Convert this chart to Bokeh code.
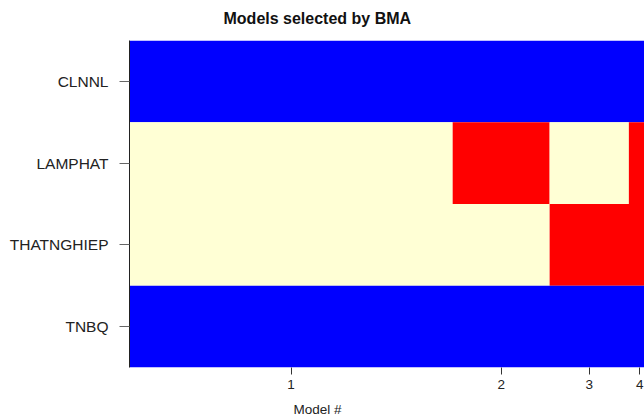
from bokeh.plotting import figure
from bokeh.models import Range1d, FixedTicker, Title
from bokeh.embed import file_html
from bokeh.resources import INLINE

# Data
variables = ["CLNNL", "LAMPHAT", "THATNGHIEP", "TNBQ"]  # top to bottom
model_labels = ["1", "2", "3", "4"]
post_prob = [0.62, 0.186, 0.152, 0.042]
# coefficient sign per variable & model: 1 = positive, -1 = negative, 0 = not included
signs = {
    "CLNNL":      [1, 1, 1, 1],
    "LAMPHAT":    [0, -1, 0, -1],
    "THATNGHIEP": [0, 0, -1, -1],
    "TNBQ":       [1, 1, 1, 1],
}
colors_map = {1: "#0000FF", -1: "#FF0000", 0: "#FFFFD5"}
title_text = "Models selected by BMA"
xlabel_text = "Model #"

# cumulative positions
edges = [0.0]
for pp in post_prob:
    edges.append(edges[-1] + pp)
centers = [(edges[i] + edges[i + 1]) / 2 for i in range(len(post_prob))]

# merge runs of equal colour in each row (avoids seams between identical cells)
n = len(variables)
left, right, bottom, top, fill = [], [], [], [], []
for vi, var in enumerate(variables):
    yb = n - 1 - vi
    row = signs[var]
    start = 0
    for mi in range(1, len(row) + 1):
        if mi == len(row) or row[mi] != row[start]:
            left.append(edges[start]); right.append(edges[mi])
            bottom.append(yb); top.append(yb + 1)
            fill.append(colors_map[row[start]])
            start = mi

p = figure(width=644, height=418, output_backend="svg", toolbar_location=None, title=None,
           x_range=Range1d(0, 0.988), y_range=Range1d(0, n),
           min_border_left=129, min_border_right=0, min_border_top=40, min_border_bottom=51)
p.outline_line_color = None
p.grid.visible = False
p.background_fill_color = "white"

p.quad(left=left, right=right, bottom=bottom, top=top, fill_color=fill, line_color=None)

# top: spacer next to the frame, then the title
p.add_layout(Title(text=" ", text_font_size="10px", standoff=0.5), "above")
p.add_layout(Title(text=title_text, text_font="Liberation Sans", text_font_size="16px",
                   text_font_style="bold", text_color="#111111", align="left",
                   offset=94, standoff=0), "above")

xa = p.xaxis[0]
xa.ticker = FixedTicker(ticks=centers)
xa.major_label_overrides = {c: l for c, l in zip(centers, model_labels)}
xa.axis_line_color = None
xa.major_tick_in = 0
xa.major_tick_out = 7
xa.minor_tick_line_color = None
xa.major_tick_line_color = "#333333"
xa.major_label_text_font = "Liberation Sans"
xa.major_label_text_font_size = "13.5px"
xa.major_label_text_color = "#222222"
xa.major_label_standoff = 5

# bottom: spacer after the axis, then the axis title
p.add_layout(Title(text=" ", text_font_size="5px", standoff=0), "below")
p.add_layout(Title(text=xlabel_text, text_font="Liberation Sans", text_font_size="13.5px",
                   text_font_style="normal", text_color="#222222", align="left",
                   offset=164, standoff=0, vertical_align="bottom"), "below")

ya = p.yaxis[0]
yt = [n - 1 - i + 0.5 for i in range(n)]
ya.ticker = FixedTicker(ticks=yt)
ya.major_label_overrides = {t: v for t, v in zip(yt, variables)}
ya.axis_line_color = "#222222"
ya.axis_line_width = 1
ya.major_tick_in = 0
ya.major_tick_out = 10
ya.minor_tick_line_color = None
ya.major_tick_line_color = "#666666"
ya.major_label_text_font = "Liberation Sans"
ya.major_label_text_font_size = "15.5px"
ya.major_label_text_color = "#222222"
ya.major_label_standoff = 11

open("out.html", "w").write(file_html(p, INLINE))
